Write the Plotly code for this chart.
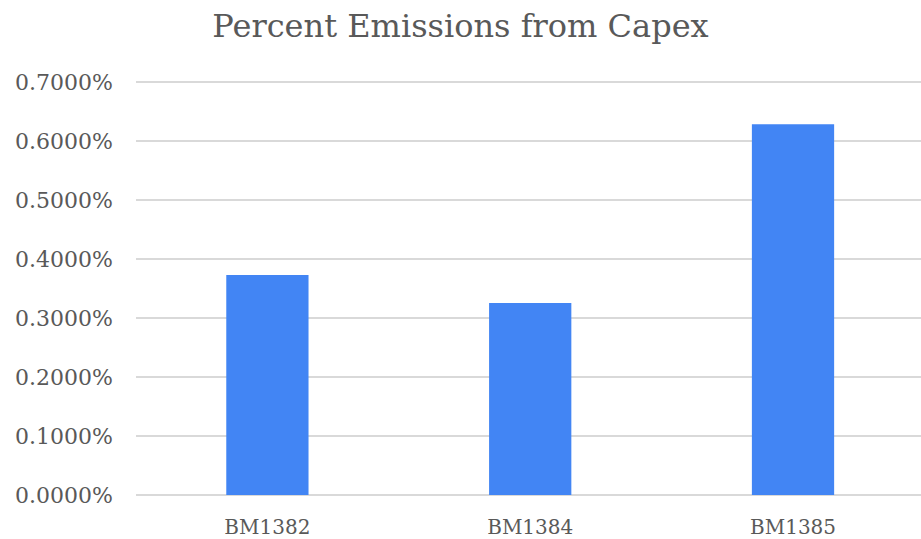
import plotly.graph_objects as go

# Share of emissions attributable to capital expenditure, per model
categories = ["BM1382", "BM1384", "BM1385"]
capex_share = [0.003729, 0.003254, 0.006288]
y_ticks = [0, 0.001, 0.002, 0.003, 0.004, 0.005, 0.006, 0.007]

TEXT = "#595959"
GRID = "#d9d9d9"
FONT = "DejaVu Serif"

fig = go.Figure(
    go.Bar(
        x=categories,
        y=capex_share,
        marker=dict(color="#4285F4", line=dict(width=0)),
        width=0.313,
    )
)

fig.update_layout(
    width=921,
    height=539,
    paper_bgcolor="white",
    plot_bgcolor="white",
    margin=dict(l=136, r=0, t=81, b=44),
    showlegend=False,
    title=dict(
        text="Percent Emissions from Capex",
        font=dict(family=FONT, size=32, color=TEXT),
        x=0.5,
        xanchor="center",
        xref="container",
        y=1 - 26 / 539,
        yanchor="middle",
        yref="container",
    ),
    font=dict(family=FONT, color=TEXT),
)

fig.update_xaxes(
    range=[-0.5, 2.487],
    showgrid=False,
    showline=False,
    zeroline=False,
    ticks="",
    tickfont=dict(family=FONT, size=20, color=TEXT),
    ticklabelstandoff=18,
)

fig.update_yaxes(
    range=[0, 0.00702],
    tickvals=y_ticks,
    tickformat=".4%",
    showgrid=True,
    gridcolor=GRID,
    gridwidth=1.5,
    zeroline=True,
    zerolinecolor=GRID,
    zerolinewidth=1.5,
    showline=False,
    ticks="",
    tickfont=dict(family=FONT, size=22, color=TEXT),
    ticklabelstandoff=22,
)

fig.write_html("out.html")
